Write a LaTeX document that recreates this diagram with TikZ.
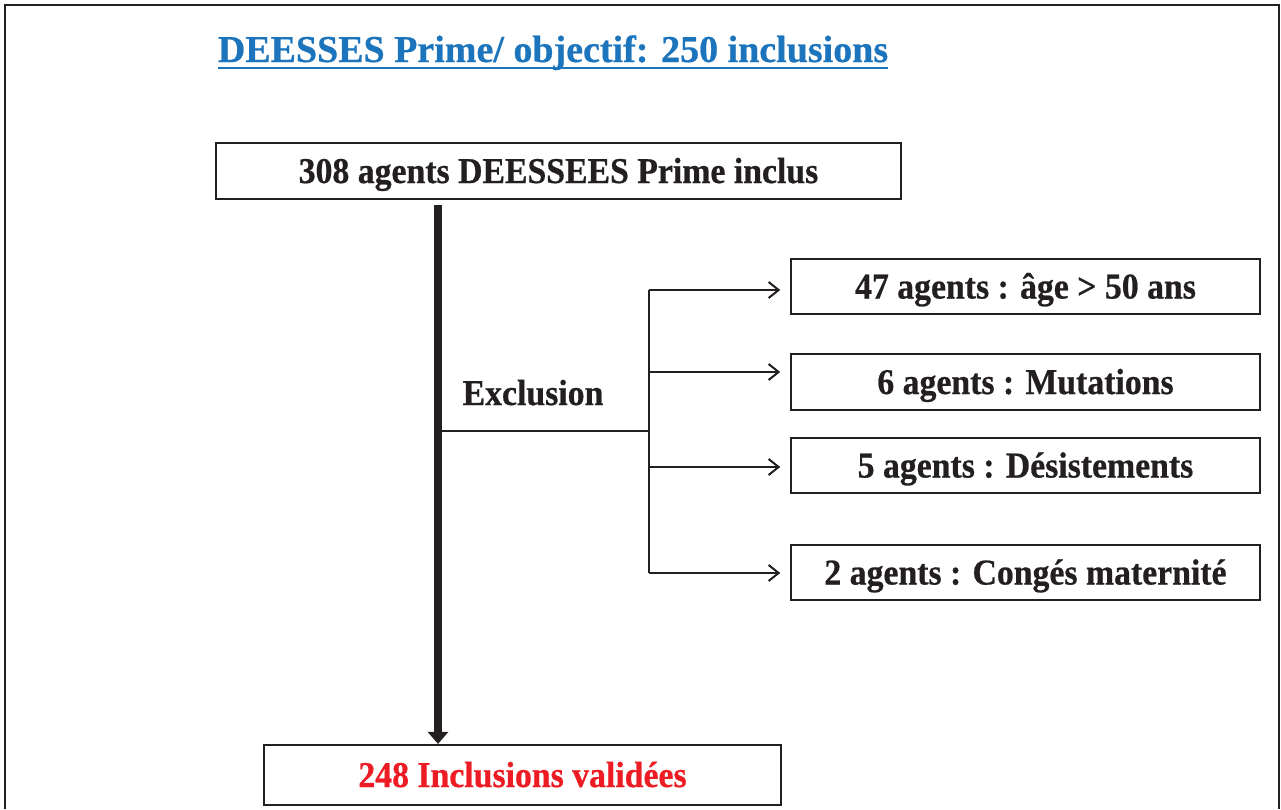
\documentclass[tikz,border=0pt]{standalone}
\usepackage{fontspec}
\setmainfont{Liberation Serif}[FakeStretch=0.93, BoldFeatures={FakeBold=0.6}]
\newfontfamily\titrefont{Liberation Serif}[BoldFeatures={FakeBold=0.6}]
\usetikzlibrary{arrows.meta, positioning, calc}
\definecolor{titre}{HTML}{1C75BC}
\definecolor{rouge}{HTML}{ED1C24}
\definecolor{encre}{HTML}{231F20}
\tikzset{label/.style = {inner sep=0pt, text=encre, text height=24pt, text depth=0pt, font=\fontsize{36.3}{38}\selectfont\bfseries}}
\tikzset{box/.style = {label, draw=encre, line width=1.6pt, fill=white}}
\tikzset{trunk/.style = {line width=8pt, encre, -{Triangle[width=20pt,length=12pt]}}}
\tikzset{branch/.style = {line width=2pt, encre, -{Straight Barb[width=16pt,length=10pt]}}}
\tikzset{line/.style = {line width=2pt, encre}}

\begin{document}
\begin{tikzpicture}[x=1pt, y=-1pt]
	\useasboundingbox (0,0) rectangle (1281,809);
	% Frame
	\draw[line width=2pt, encre] (5,809) -- (5,5) -- (1279,5) -- (1279,809);

	% Title
	\node[anchor=base, inner sep=0pt, text=titre, font=\titrefont\fontsize{38}{40}\selectfont\bfseries] (titre) at (553,62) {DEESSES Prime/ objectif: 250 inclusions};
	\draw[titre, line width=2.5pt] ($(titre.base west)+(0,6)$) -- ($(titre.base east)+(0,6)$);

	% Boxes
	\node[box, minimum width=685pt, minimum height=56pt] (inclus) at (558.5,171) {308 agents DEESSEES Prime inclus};
	\node[box, minimum width=469pt, minimum height=55pt] (age) at (1025.5,286.5) {47 agents : âge > 50 ans};
	\node[box, minimum width=469pt, minimum height=56pt] (mutation) at (1025.5,382) {6 agents : Mutations};
	\node[box, minimum width=469pt, minimum height=55pt] (desist) at (1025.5,465.5) {5 agents : Désistements};
	\node[box, minimum width=469pt, minimum height=55pt] (conge) at (1025.5,572.5) {2 agents : Congés maternité};
	\node[box, text=rouge, line width=2.2pt, minimum width=517pt, minimum height=60pt] (valide) at (522.5,775) {248 Inclusions validées};

	% Coordinates
	\coordinate (tronc) at (438,0);
	\coordinate (depart) at (438,431);
	\coordinate (fourche) at (649,431);
	\coordinate (b1) at (649,290);
	\coordinate (b2) at (649,372);
	\coordinate (b3) at (649,467);
	\coordinate (b4) at (649,573);

	% Arrows
	\draw[trunk, shorten <=5pt] (tronc |- inclus.south) -- (tronc |- valide.north);
	\node[label] (exclusion) at (533,393) {Exclusion};
	\draw[line] (depart) -- (fourche);
	\draw[line] (b1) -- (b4);
	\foreach \b/\n in {b1/age, b2/mutation, b3/desist, b4/conge}
		\draw[branch, shorten >=10pt] (\b) -- (\b -| \n.west);
\end{tikzpicture}
\end{document}
